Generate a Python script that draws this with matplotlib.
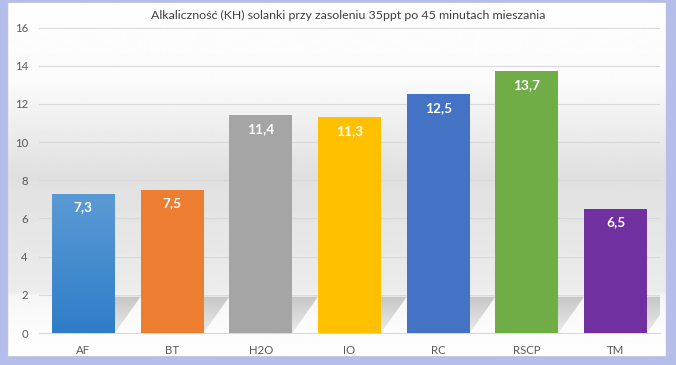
import numpy as np
import matplotlib
matplotlib.use("Agg")
import matplotlib.pyplot as plt
from matplotlib.patches import FancyBboxPatch, Polygon
from matplotlib.colors import LinearSegmentedColormap

categories = ["AF", "BT", "H2O", "IO", "RC", "RSCP", "TM"]
values = [7.3, 7.5, 11.4, 11.3, 12.5, 13.7, 6.5]
labels = ["7,3", "7,5", "11,4", "11,3", "12,5", "13,7", "6,5"]
colors = ["#4a8fd2", "#ed7d31", "#a5a5a5", "#ffc000", "#4472c4", "#70ad47", "#7030a0"]
yticks = [0, 2, 4, 6, 8, 10, 12, 14, 16]
title = "Alkaliczność (KH) solanki przy zasoleniu 35ppt po 45 minutach mieszania"

FONT = ["Lato", "DejaVu Sans"]
plt.rcParams["font.family"] = FONT

W, H = 676, 365
fig = plt.figure(figsize=(W / 100, H / 100), dpi=100)
fig.patch.set_facecolor("#b5bdea")

def fx(px):
    return px / W

def fy(py):
    return 1 - py / H

# chart area (white rounded box) with background gradient
cx0, cx1, cy0, cy1 = 7, 667, 2, 357
bg = fig.add_axes([fx(cx0), fy(cy1), fx(cx1 - cx0), (cy1 - cy0) / H])
bg.set_xlim(0, 1)
bg.set_ylim(cy1, cy0)
bg.axis("off")
box = FancyBboxPatch((0.002, cy0 + 1), 0.996, cy1 - cy0 - 2,
                     boxstyle="round,pad=0,rounding_size=0.006",
                     transform=bg.transData, facecolor="white",
                     edgecolor="#d0d0d0", linewidth=0.8, zorder=1)
bg.add_patch(box)
rows = np.arange(cy0, cy1 + 1)
prof_y = [cy0, 80, 178, 188, 292, 296, 333, cy1]
prof_v = [0.995, 0.985, 0.875, 0.885, 0.925, 0.965, 0.99, 0.995]
g = np.interp(rows, prof_y, prof_v)
img = np.repeat(g[:, None], 2, axis=1)
im = bg.imshow(img, cmap="gray", vmin=0, vmax=1, aspect="auto",
               extent=[0, 1, cy1, cy0], zorder=2, interpolation="bilinear")
im.set_clip_path(box)

# plot axes
px_left, px_right, py_top, py_bot = 39, 660, 27.5, 333
ax = fig.add_axes([fx(px_left), fy(py_bot), fx(px_right - px_left), (py_bot - py_top) / H])
ax.patch.set_alpha(0)
ax.set_xlim(-0.5, len(categories) - 0.5)
ax.set_ylim(0, 16)

x = np.arange(len(categories))
bars = ax.bar(x, values, width=0.71, color=colors, zorder=3)

# gradient for first bar
grad_cmap = LinearSegmentedColormap.from_list("afg", ["#2f7dc8", "#5b9bd5"])
b0 = bars[0]
bx, bw, bh = b0.get_x(), b0.get_width(), b0.get_height()
gim = ax.imshow(np.linspace(0, 1, 100)[:, None], cmap=grad_cmap, aspect="auto",
                origin="lower", extent=[bx, bx + bw, 0, bh], zorder=3.5)
gim.set_clip_path(b0)

# shadows on the floor
sh_cmap = LinearSegmentedColormap.from_list("sh", ["#ebebeb", "#c6c6c6"])
dx, sh_h = 0.29, 1.9
for b in bars:
    l, r = b.get_x(), b.get_x() + b.get_width()
    poly = Polygon([(l, 0), (r, 0), (r + dx, sh_h), (l + dx, sh_h)], closed=True,
                   facecolor="none", edgecolor="none", transform=ax.transData)
    ax.add_patch(poly)
    sim = ax.imshow(np.linspace(0, 1, 50)[:, None], cmap=sh_cmap, aspect="auto",
                    origin="lower", extent=[l, r + dx, 0, sh_h], zorder=2)
    sim.set_clip_path(poly)
ax.set_xlim(-0.5, len(categories) - 0.5)
ax.set_ylim(0, 16)

for b, lab in zip(bars, labels):
    ax.annotate(lab, (b.get_x() + b.get_width() / 2, b.get_height()),
                xytext=(0, -5.5), textcoords="offset points", ha="center", va="top",
                color="white", fontsize=9.8, fontweight="bold", zorder=5)

ax.set_yticks(yticks)
ax.set_yticklabels([str(t) for t in yticks])
ax.set_xticks(x)
ax.set_xticklabels(categories)
ax.tick_params(axis="both", length=0, colors="#595959", labelsize=8.2)
ax.tick_params(axis="y", pad=8)
ax.tick_params(axis="x", pad=9)
ax.grid(axis="y", color="#d9d9d9", linewidth=0.8, zorder=1)
ax.set_axisbelow(True)
for s in ["top", "right", "left"]:
    ax.spines[s].set_visible(False)
ax.spines["bottom"].set_color("#d9d9d9")
ax.spines["bottom"].set_linewidth(0.8)

fig.text(fx(348), fy(15), title, ha="center", va="center", fontsize=8.9, color="#404040")

fig.savefig("out.png", dpi=100, facecolor=fig.get_facecolor())
